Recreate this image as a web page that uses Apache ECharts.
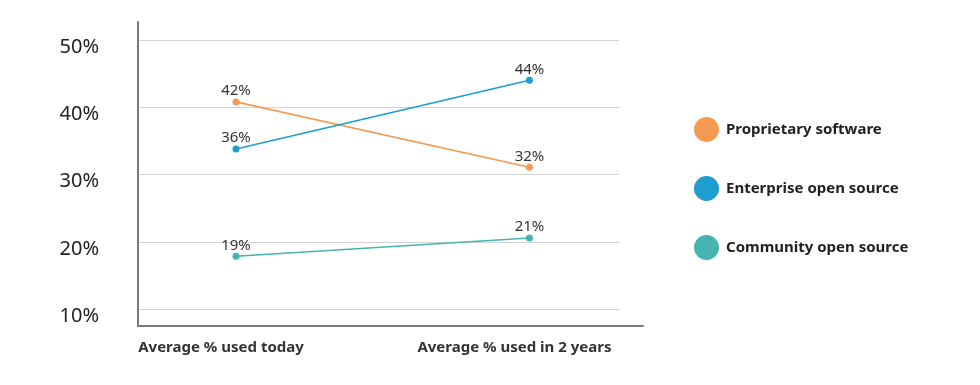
<!DOCTYPE html>
<html>
<head>
<meta charset="utf-8">
<script src="https://cdn.jsdelivr.net/npm/echarts@6/dist/echarts.min.js"></script>
<style>
html,body{margin:0;padding:0;background:#fff;}
#chart{width:980px;height:385px;}
</style>
</head>
<body>
<div id="chart"></div>
<script>
// ---- data ----
const categories = ['Average % used today', 'Average % used in 2 years'];
const seriesNames = ['Proprietary software', 'Enterprise open source', 'Community open source'];
// plotted positions
const proprietaryValues = [40.8, 31.1];
const enterpriseValues = [33.8, 44.0];
const communityValues = [17.9, 20.6];
// printed data labels
const proprietaryLabels = ['42%', '32%'];
const enterpriseLabels = ['36%', '44%'];
const communityLabels = ['19%', '21%'];
const yTicks = [10, 20, 30, 40, 50];

const colors = ['#F59A52', '#1E9ECF', '#45B4AE'];
const FONT = '"Noto Sans", sans-serif';
const Y_MIN = 7.55, Y_MAX = 52.65;

function mkSeries(name, vals, labels, color) {
  return {
    name: name,
    type: 'line',
    xAxisIndex: 1,
    yAxisIndex: 1,
    data: vals.map((v, i) => [i, v]),
    symbol: 'circle',
    symbolSize: 7,
    lineStyle: { color: color, width: 1.6 },
    itemStyle: { color: color },
    label: {
      show: true,
      position: 'top',
      distance: 0,
      formatter: p => labels[p.dataIndex],
      color: '#333',
      fontSize: 15,
      fontFamily: FONT
    },
    emphasis: { disabled: true },
    animation: false
  };
}

const chart = echarts.init(document.getElementById('chart'), null, { renderer: 'canvas' });
chart.setOption({
  backgroundColor: '#fff',
  animation: false,
  grid: [
    { left: 138, right: 361, top: 22, bottom: 59 },
    { left: 138, right: 337, top: 22, bottom: 59 }
  ],
  xAxis: [
    { gridIndex: 0, type: 'value', min: 0, max: 1, show: false },
    {
      gridIndex: 1, type: 'value', min: -0.334, max: 1.387,
      axisLine: { show: true, onZero: false, lineStyle: { color: '#7a7a7a', width: 2 } },
      axisTick: { show: false },
      splitLine: { show: false },
      axisLabel: {
        customValues: [0, 1],
        formatter: v => categories[Math.round(v)],
        color: '#333',
        fontWeight: 'bold',
        fontSize: 15,
        fontFamily: FONT,
        margin: 14,
        padding: [0, 30, 0, 0]
      }
    }
  ],
  yAxis: [
    {
      gridIndex: 0, type: 'value', min: Y_MIN, max: Y_MAX,
      axisLine: { show: false },
      axisTick: { show: false, customValues: yTicks },
      splitLine: { show: true, lineStyle: { color: '#d4d4d4', width: 1 } },
      axisLabel: {
        customValues: yTicks,
        formatter: '{value}%',
        color: '#222',
        fontSize: 20,
        fontFamily: FONT,
        margin: 39,
        verticalAlign: 'top',
        lineHeight: 14
      }
    },
    {
      gridIndex: 1, type: 'value', min: Y_MIN, max: Y_MAX,
      axisLine: { show: true, onZero: false, lineStyle: { color: '#7a7a7a', width: 2 } },
      axisTick: { show: false },
      splitLine: { show: false },
      axisLabel: { show: false }
    }
  ],
  legend: {
    orient: 'vertical',
    left: 694,
    top: 117,
    padding: 0,
    itemWidth: 25,
    itemHeight: 25,
    itemGap: 34,
    icon: 'circle',
    data: seriesNames,
    textStyle: { color: '#222', fontWeight: 'bold', fontSize: 15, fontFamily: FONT, padding: [0, 0, 0, 2] }
  },
  series: [
    mkSeries(seriesNames[0], proprietaryValues, proprietaryLabels, colors[0]),
    mkSeries(seriesNames[1], enterpriseValues, enterpriseLabels, colors[1]),
    mkSeries(seriesNames[2], communityValues, communityLabels, colors[2])
  ]
});
</script>
</body>
</html>
